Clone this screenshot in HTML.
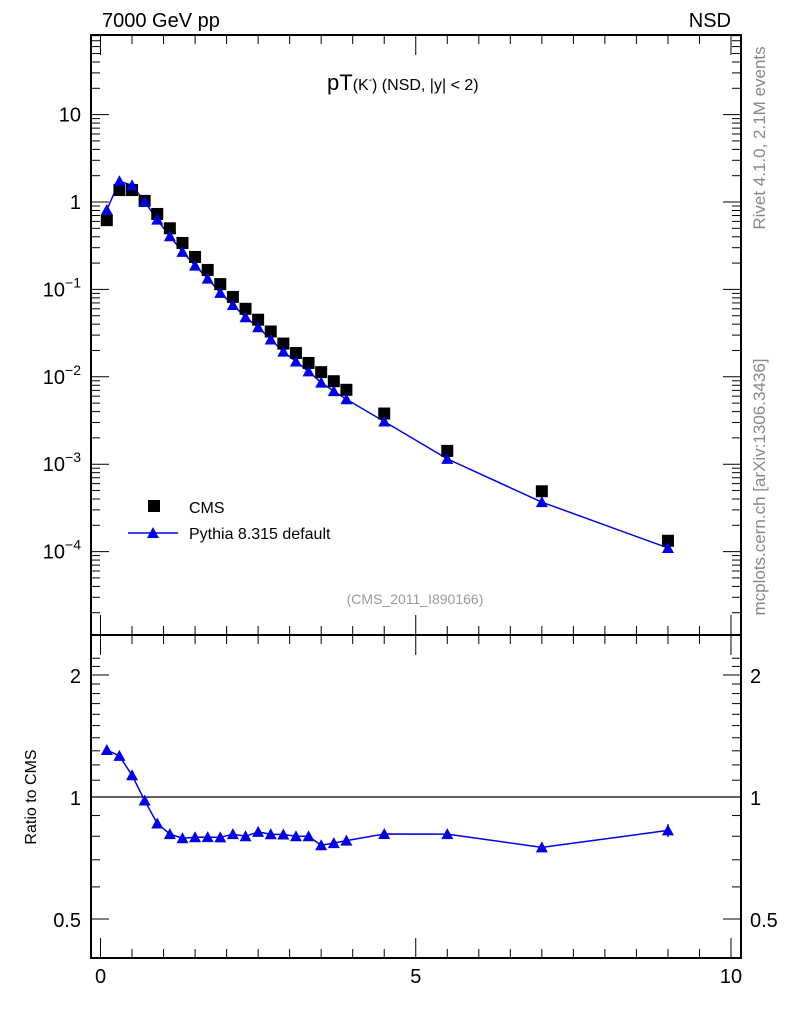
<!DOCTYPE html>
<html><head><meta charset="utf-8"><style>
body{margin:0;background:#fff;}
svg text{font-family:"Liberation Sans",Arial,sans-serif;}
</style></head><body>
<svg id="chart" width="786" height="1024" xmlns="http://www.w3.org/2000/svg"></svg>
<script>
const xVals=[0.1,0.3,0.5,0.7,0.9,1.1,1.3,1.5,1.7,1.9,2.1,2.3,2.5,2.7,2.9,3.1,3.3,3.5,3.7,3.9,4.5,5.5,7.0,9.0];
const cmsVals=[0.62,1.37,1.37,1.03,0.73,0.50,0.34,0.235,0.167,0.115,0.082,0.060,0.045,0.033,0.024,0.0187,0.0144,0.0113,0.0089,0.0071,0.0038,0.00142,0.00049,0.000133];
const pythiaVals=[0.81,1.73,1.55,1.01,0.628,0.405,0.269,0.187,0.133,0.0914,0.0664,0.048,0.0369,0.0267,0.0194,0.01496,0.01152,0.00859,0.00685,0.00554,0.00308,0.00115,0.000368,0.00011];
const ratioErr=[0.01,0.01,0.01,0.01,0.01,0.01,0.01,0.01,0.01,0.01,0.01,0.01,0.01,0.01,0.01,0.01,0.01,0.01,0.01,0.01,0.01,0.01,0.015,0.03];
const xTicks=[0,5,10];
const yTicks=[10,1,0.1,0.01,0.001,0.0001];
const yTickLabels=["10","1","10^-1","10^-2","10^-3","10^-4"];
const rTicks=[2,1,0.5];

const svg=document.getElementById('chart');
const NS='http://www.w3.org/2000/svg';
function el(t,a,p){const e=document.createElementNS(NS,t);for(const k in a)e.setAttribute(k,a[k]);(p||svg).appendChild(e);return e;}
const L=91,R=741,T=35,MB=635,RB=958;
const xs=v=>100.5+v*63.05;
const ys=v=>202-Math.log10(v)*87.4;
const rs=v=>797-Math.log2(v)*122;

const f1=el('rect',{x:L,y:T,width:R-L,height:MB-T,fill:'none',stroke:'#000','stroke-width':2});


const f2=el('rect',{x:L,y:MB,width:R-L,height:RB-MB,fill:'none',stroke:'#000','stroke-width':2});



for(let v=0;v<=10.01;v+=0.5){
  const big=Math.abs(v-Math.round(v/5)*5)<1e-6;const len=big?20:9;
  [[MB,-1],[T,1],[MB,1],[RB,-1]].forEach(([y,d])=>el('line',{x1:xs(v),x2:xs(v),y1:y,y2:y+d*len,stroke:'#000','stroke-width':1}));
}
xTicks.forEach(v=>{const t=el('text',{x:xs(v),y:983,'text-anchor':'middle','font-size':20});t.textContent=v;

});

for(let d=-5;d<=1;d++){for(let m=1;m<=9;m++){const v=m*Math.pow(10,d);const y=ys(v);if(y<T||y>MB)continue;
const len=m==1?18:9;el('line',{x1:L,x2:L+len,y1:y,y2:y,stroke:'#000'});el('line',{x1:R,x2:R-len,y1:y,y2:y,stroke:'#000'});}}
yTicks.forEach((v,i)=>{const t=el('text',{x:81,y:ys(v)+7,'text-anchor':'end','font-size':20});
const lab=yTickLabels[i];
if(lab.includes('^')){const [b,e]=lab.split('^');t.textContent=b;const s=el('tspan',{dy:-9,'font-size':14},t);s.textContent=e.replace('-','\u2212');}
else t.textContent=lab;

});

for(let v=0.4;v<=2.3;v+=0.1){const y=rs(v);if(y<MB||y>RB)continue;
const big=[0.5,1,2].some(b=>Math.abs(b-v)<1e-6);const len=big?18:9;
el('line',{x1:L,x2:L+len,y1:y,y2:y,stroke:'#000'});el('line',{x1:R,x2:R-len,y1:y,y2:y,stroke:'#000'});}
rTicks.forEach(v=>{[[81,'end'],[750,'start']].forEach(([x,a])=>{const t=el('text',{x:x,y:rs(v)+8,'text-anchor':a,'font-size':20});t.textContent=v;

});});
el('line',{x1:L,x2:R,y1:rs(1),y2:rs(1),stroke:'#000','stroke-width':1.2});

const pl=el('polyline',{points:xVals.map((x,i)=>xs(x)+','+ys(pythiaVals[i])).join(' '),fill:'none',stroke:'#0000e6','stroke-width':1.5});


function tri(cx,cy,nm){const p=el('polygon',{points:`${cx},${cy-6} ${cx-6},${cy+5} ${cx+6},${cy+5}`,fill:'#0000e6'});

}
xVals.forEach((x,i)=>{
  const r=el('rect',{x:xs(x)-6,y:ys(cmsVals[i])-6,width:12,height:12,fill:'#000'});
  
  
  tri(xs(x),ys(pythiaVals[i]),'pythia-point');
});
const ratio=xVals.map((x,i)=>pythiaVals[i]/cmsVals[i]);
const rl=el('polyline',{points:xVals.map((x,i)=>xs(x)+','+rs(ratio[i])).join(' '),fill:'none',stroke:'#0000e6','stroke-width':1.5});


xVals.forEach((x,i)=>{
  const e=ratioErr[i];const y1=rs(ratio[i]+e),y2=rs(ratio[i]-e);
  el('line',{x1:xs(x),x2:xs(x),y1:y1,y2:y2,stroke:'#0000e6','stroke-width':1.5});
  tri(xs(x),rs(ratio[i]),'ratio-point');
});

function txt(s,a,nm){const t=el('text',a);t.textContent=s;

return t;}
txt('7000 GeV pp',{x:102,y:27,'font-size':20},'energy-label');
txt('NSD',{x:731,y:27,'font-size':20,'text-anchor':'end'},'process-label');
const tt=txt('pT',{x:327,y:90,'font-size':22},'plot-title');
const a1=el('tspan',{'font-size':16},tt);a1.textContent='(K';
const a2=el('tspan',{'font-size':10,dy:-7},tt);a2.textContent='-';
const a3=el('tspan',{'font-size':16,dy:7},tt);a3.textContent=') (NSD, |y| < 2)';
txt('(CMS_2011_I890166)',{x:415,y:604,'font-size':14,fill:'#999','text-anchor':'middle'},'analysis-id');
const lr=el('rect',{x:148,y:500,width:12,height:12,fill:'#000'});


txt('CMS',{x:189,y:513,'font-size':16},'legend-cms-label');
el('line',{x1:128,x2:178,y1:533,y2:533,stroke:'#0000e6','stroke-width':1.5});
tri(153,533,'legend-pythia-marker');
txt('Pythia 8.315 default',{x:189,y:539,'font-size':16},'legend-pythia-label');
txt('Ratio to CMS',{x:0,y:0,'font-size':16,transform:'translate(36,797) rotate(-90)','text-anchor':'middle'},'ratio-axis-title');
txt('Rivet 4.1.0,  2.1M events',{x:0,y:0,'font-size':17,fill:'#888',transform:'translate(765,138) rotate(-90)','text-anchor':'middle'},'rivet-info');
txt('mcplots.cern.ch [arXiv:1306.3436]',{x:0,y:0,'font-size':17,fill:'#888',transform:'translate(765,487) rotate(-90)','text-anchor':'middle'},'mcplots-info');
</script>
</body></html>
